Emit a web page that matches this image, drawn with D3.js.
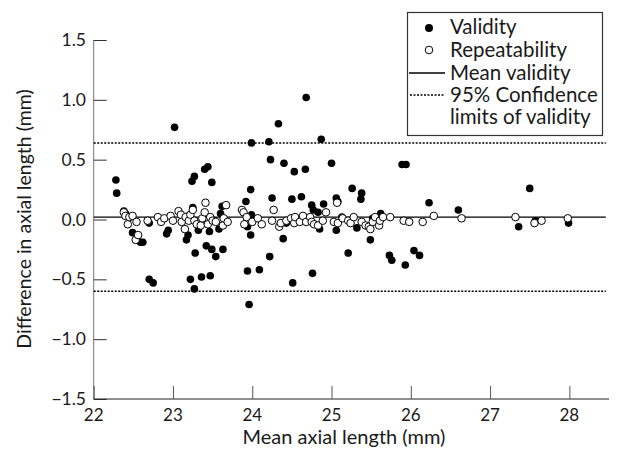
<!DOCTYPE html>
<html>
<head>
<meta charset="utf-8">
<script src="https://cdn.jsdelivr.net/npm/d3@7"></script>
<style>
  body { margin: 0; background: #fff; }
  text { font-family: Lato, "Noto Sans", sans-serif; fill: #1a1a1a; }
</style>
</head>
<body>
<svg id="chart" width="618" height="451"></svg>
<script>
// validity: mean vs difference (filled dots)
const validityX = [22.28, 22.29, 22.38, 22.40, 22.49, 22.59, 22.62, 22.70, 22.70, 22.75,
  22.92, 22.94, 23.02, 23.17, 23.19, 23.20, 23.22, 23.24, 23.27, 23.25,
  23.28, 23.27, 23.32, 23.36, 23.40, 23.44, 23.42, 23.47, 23.46, 23.49,
  23.49, 23.54, 23.63, 23.58, 23.60, 23.62, 23.92, 23.94, 23.94, 23.96,
  23.98, 23.99, 23.98, 23.99, 24.09, 24.21, 24.23, 24.22, 24.25, 24.33,
  24.40, 24.39, 24.43, 24.50, 24.51, 24.53, 24.62, 24.67, 24.68, 24.75,
  24.77, 24.76, 24.83, 24.85, 24.87, 24.90, 25.00, 25.06, 25.06, 25.08,
  25.13, 25.21, 25.26, 25.32, 25.38, 25.37, 25.49, 25.52, 25.62, 25.73,
  25.76, 25.89, 25.94, 25.93, 26.04, 26.11, 26.23, 26.60, 27.36, 27.50,
  27.57, 27.99]
const validityY = [0.33, 0.22, 0.07, 0.05, -0.11, -0.19, -0.19, -0.03, -0.50, -0.53,
  -0.12, -0.09, 0.77, -0.17, -0.13, 0.03, -0.50, 0.32, 0.36, 0.10,
  -0.28, -0.58, -0.09, -0.48, 0.42, 0.44, -0.22, -0.47, -0.10, -0.25,
  0.31, -0.31, -0.25, -0.08, 0.05, 0.11, 0.15, -0.06, -0.43, -0.71,
  0.25, 0.64, -0.13, 0.04, -0.42, 0.65, 0.50, -0.31, 0.18, 0.80,
  0.47, -0.16, -0.03, 0.17, -0.53, 0.40, 0.19, 0.42, 1.02, 0.12,
  0.08, -0.45, 0.06, -0.08, 0.67, 0.13, 0.47, 0.18, -0.09, 0.15,
  0.02, -0.28, 0.26, -0.07, 0.22, 0.17, -0.17, 0.01, 0.05, -0.30,
  -0.34, 0.46, 0.46, -0.38, -0.26, -0.30, 0.14, 0.08, -0.06, 0.26,
  -0.01, -0.03]

// repeatability (open dots)
const repeatX = [22.38, 22.40, 22.43, 22.45, 22.49, 22.54, 22.53, 22.56, 22.68, 22.81,
  22.85, 22.89, 22.97, 23.00, 23.07, 23.10, 23.11, 23.15, 23.16, 23.20,
  23.22, 23.25, 23.27, 23.30, 23.35, 23.37, 23.40, 23.41, 23.44, 23.47,
  23.50, 23.54, 23.63, 23.64, 23.67, 23.69, 23.87, 23.89, 23.90, 23.93,
  24.00, 24.07, 24.12, 24.25, 24.27, 24.34, 24.36, 24.43, 24.49, 24.53,
  24.54, 24.60, 24.64, 24.68, 24.73, 24.75, 24.78, 24.83, 24.89, 24.93,
  25.03, 25.08, 25.07, 25.14, 25.21, 25.24, 25.28, 25.38, 25.43, 25.47,
  25.49, 25.52, 25.55, 25.60, 25.61, 25.65, 25.74, 25.91, 25.98, 26.15,
  26.29, 26.64, 27.32, 27.56, 27.65, 27.98]
const repeatY = [0.06, 0.03, -0.04, 0.02, 0.03, -0.02, -0.17, -0.13, -0.01, 0.02,
  -0.02, 0.01, 0.03, -0.01, 0.07, 0.04, -0.02, -0.08, 0.02, -0.01,
  0.04, 0.08, -0.01, -0.04, -0.05, 0.01, 0.06, 0.14, -0.04, 0.02,
  -0.01, -0.02, -0.05, 0.01, 0.12, -0.02, 0.08, 0.06, -0.04, 0.02,
  -0.02, 0.01, -0.04, -0.01, 0.08, -0.06, -0.03, -0.01, 0.01, -0.03,
  0.02, -0.02, 0.03, -0.02, 0.02, -0.02, -0.04, -0.05, -0.01, 0.06,
  -0.02, -0.03, 0.14, 0.01, -0.01, -0.03, 0.02, -0.02, -0.05, -0.06,
  -0.08, -0.02, 0.02, -0.05, -0.01, 0.02, 0.02, -0.01, -0.02, -0.02,
  0.03, 0.01, 0.02, -0.03, -0.01, 0.01]

// mean difference and 95% limits of validity
const meanValidity = 0.02
const limits = [0.64, -0.60]

const xTicks = [22, 23, 24, 25, 26, 27, 28]
const yTicks = [-1.5, -1.0, -0.5, 0.0, 0.5, 1.0, 1.5]

const legendItems = ['Validity', 'Repeatability', 'Mean validity', '95% Confidence', 'limits of validity']

const svg = d3.select('#chart')

// escalas
const x = d3.scaleLinear().domain([22, 28.5]).range([93.7, 609])
const y = d3.scaleLinear().domain([-1.5, 1.5]).range([399, 40])

const fmtY = d => d3.format('.1f')(d).replace('-', '\u2212')

// eje y
const yAxis = svg.append('g')
  .attr('transform', `translate(${x(22)},0)`)
  .call(d3.axisRight(y).tickValues(yTicks).tickSize(13).tickFormat(''))
yAxis.select('.domain').attr('stroke', '#777').attr('d', `M0,${y(1.5)}V${y(-1.5)}`)
yAxis.selectAll('.tick line').attr('stroke', '#333')

svg.append('g').selectAll('text')
  .data(yTicks)
  .join('text')
  .attr('x', 86)
  .attr('y', d => y(d) + 6)
  .attr('text-anchor', 'end')
  .attr('font-size', '17.5px')
  .text(fmtY)

// eje x
const xAxis = svg.append('g')
  .attr('transform', `translate(0,${y(-1.5)})`)
  .call(d3.axisTop(x).tickValues(xTicks).tickSize(13).tickFormat(''))
xAxis.select('.domain').attr('stroke', '#222').attr('d', `M${x(22)},0H${x(28.5)}`)
xAxis.selectAll('.tick line').attr('stroke', '#555')

svg.append('g').selectAll('text')
  .data(xTicks)
  .join('text')
  .attr('x', d => x(d))
  .attr('y', 421)
  .attr('text-anchor', 'middle')
  .attr('font-size', '17px')
  .text(d => d)

// titulos
svg.append('text')
  .attr('x', 344)
  .attr('y', 444)
  .attr('text-anchor', 'middle')
  .attr('font-size', '20px')
  .text('Mean axial length (mm)')

svg.append('text')
  .attr('transform', `translate(31,219) rotate(-90)`)
  .attr('text-anchor', 'middle')
  .attr('font-size', '19.5px')
  .text('Difference in axial length (mm)')

// lineas de media y limites
svg.append('line')
  .attr('x1', x(22)).attr('x2', x(28.46))
  .attr('y1', y(meanValidity)).attr('y2', y(meanValidity))
  .attr('stroke', '#000').attr('stroke-width', 1.3)

svg.append('g').selectAll('line')
  .data(limits)
  .join('line')
  .attr('x1', x(22)).attr('x2', x(28.46))
  .attr('y1', d => y(d)).attr('y2', d => y(d))
  .attr('stroke', '#000').attr('stroke-width', 1.5)
  .attr('stroke-dasharray', '2,1.5')

// puntos
const r = 3.8
svg.append('g').selectAll('circle')
  .data(d3.zip(validityX, validityY))
  .join('circle')
  .attr('cx', d => x(d[0]))
  .attr('cy', d => y(d[1]))
  .attr('r', r)
  .attr('fill', '#000')

svg.append('g').selectAll('circle')
  .data(d3.zip(repeatX, repeatY))
  .join('circle')
  .attr('cx', d => x(d[0]))
  .attr('cy', d => y(d[1]))
  .attr('r', r)
  .attr('fill', '#fff')
  .attr('stroke', '#000')
  .attr('stroke-width', 1)

// leyenda
const lg = svg.append('g')
lg.append('rect')
  .attr('x', 407.5).attr('y', 12.5)
  .attr('width', 195).attr('height', 123)
  .attr('fill', '#fff').attr('stroke', '#333').attr('stroke-width', 1.2)

const rowY = [34, 57, 80, 102, 124]
lg.selectAll('text')
  .data(legendItems)
  .join('text')
  .attr('x', 450)
  .attr('y', (d, i) => rowY[i])
  .attr('font-size', '20.5px')
  .text(d => d)

lg.append('circle').attr('cx', 429).attr('cy', 28).attr('r', 4).attr('fill', '#000')
lg.append('circle').attr('cx', 429).attr('cy', 50).attr('r', 3.8)
  .attr('fill', '#fff').attr('stroke', '#000').attr('stroke-width', 1)
lg.append('line').attr('x1', 409).attr('x2', 445).attr('y1', 73).attr('y2', 73)
  .attr('stroke', '#000').attr('stroke-width', 1.3)
lg.append('line').attr('x1', 410).attr('x2', 445).attr('y1', 95).attr('y2', 95)
  .attr('stroke', '#000').attr('stroke-width', 1.5).attr('stroke-dasharray', '2,1.5')
</script>
</body>
</html>
